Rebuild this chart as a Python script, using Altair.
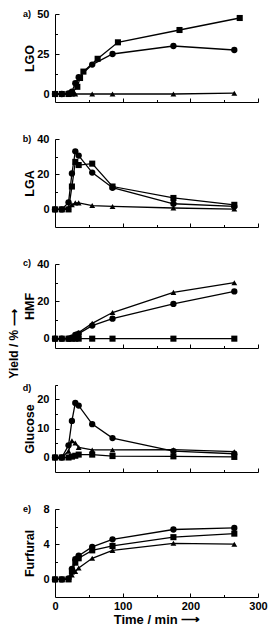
import altair as alt
import pandas as pd

FONT = "Liberation Sans"
W = 203

# ---------------- data ----------------
T = [0, 10, 20, 25, 30, 35, 55, 85, 175, 265]

# a) LGO
lgo_c_t = [0, 10, 20, 25, 30, 35, 55, 85, 175, 265]
lgo_c_v = [0, 0, 0.3, 1.5, 6.7, 10.5, 18.4, 25, 30, 27.5]
lgo_s_t = [0, 10, 20, 25, 33, 37, 42, 63, 93, 184, 273]
lgo_s_v = [0, 0, 0, 0.5, 4.5, 10, 14, 22, 32.3, 40, 47.5]
lgo_t_t = [0, 10, 20, 25, 30, 55, 85, 175, 265]
lgo_t_v = [0, 0, 0, 0, 0, 0, 0, 0, 0.5]

# b) LGA
lga_c_v = [0, 0, 4, 20.4, 33, 30.6, 20.9, 12.3, 3.2, 1.7]
lga_s_v = [0, 0, 0, 13, 27, 25.2, 26, 13, 6.5, 2.6]
lga_t_v = [0, 0, 1.2, 2.6, 3.7, 3.7, 2.2, 1.7, 0.8, 0.2]

# c) HMF
hmf_c_v = [0, 0, 0, 0.5, 2, 2.7, 7, 10.7, 18.6, 25.3]
hmf_s_v = [0, 0, 0, 0, 0, 0, 0, 0, 0, 0]
hmf_t_v = [0, 0, 0, 1, 2.6, 3.3, 8.2, 14, 24.8, 30]

# d) Glucose
glu_c_v = [0, 0, 4.2, 12.6, 18.8, 17.9, 11.5, 6.7, 2.2, 1.3]
glu_s_v = [0, 0, 0, 0.3, 0.6, 1, 1, 0.5, 0.4, 0.2]
glu_t_v = [0, 0, 2.2, 5.8, 5.0, 3.5, 2.6, 2.6, 2.7, 2.0]

# e) Furfural
fur_c_v = [0, 0, 0.1, 1.2, 2.3, 2.7, 3.7, 4.55, 5.67, 5.85]
fur_s_v = [0, 0, 0, 0.9, 1.9, 2.4, 3.3, 3.8, 4.8, 5.2]
fur_t_v = [0, 0, 0, 0.5, 0.9, 1.3, 2.4, 3.3, 4.1, 4.0]

x_major = [0, 100, 200, 300]
x_tick_major = [100, 200, 300]
x_tick_minor = [50, 150, 250]


def frame(parts):
    rows = []
    for name, t, v in parts:
        for ti, vi in zip(t, v):
            rows.append({"t": ti, "v": vi, "s": name})
    return pd.DataFrame(rows)


shape_scale = alt.Scale(domain=["circle", "square", "triangle"],
                        range=["circle", "square", "triangle-up"])
size_scale = alt.Scale(domain=["circle", "square", "triangle"], range=[40, 34, 46])


def tick_axes(base, xs, ys, xvals, yvals, size):
    return base.mark_point(opacity=0).encode(
        x=alt.X("t:Q", scale=xs, axis=alt.Axis(orient="bottom", offset=-size, values=xvals,
                                               tickSize=size, labels=False, domain=False,
                                               title=None, grid=False)),
        y=alt.Y("v:Q", scale=ys, axis=alt.Axis(orient="left", offset=-size, values=yvals,
                                               tickSize=size, labels=False, domain=False,
                                               title=None, grid=False)),
    )


def panel(df, letter, title, ydom, ymaj, ymin, H, bottom=False, letter_dy=0, extra=None):
    xs = alt.Scale(domain=[0, 300], nice=False, zero=False)
    ys = alt.Scale(domain=ydom, nice=False, zero=False)
    base = alt.Chart(df)
    if bottom:
        xaxis = alt.Axis(orient="bottom", values=x_major, ticks=False, tickSize=0, labels=True,
                         title="Time / min \u27f6", labelPadding=3, titlePadding=2,
                         labelFlush=False, grid=False, titleFontSize=13, labelFontSize=11)
    else:
        xaxis = alt.Axis(orient="bottom", values=x_major, ticks=False, tickSize=0, labels=False,
                         title=None, grid=False)
    yaxis = alt.Axis(orient="left", values=ymaj, ticks=False, tickSize=0, labelPadding=6,
                     labelFlush=False, title=title, titleX=-19, grid=False,
                     titleFontSize=12.5, labelFontSize=11)
    lines = base.mark_line(color="black", strokeWidth=1.3).encode(
        x=alt.X("t:Q", scale=xs, axis=xaxis),
        y=alt.Y("v:Q", scale=ys, axis=yaxis),
        detail="s:N",
        order="t:Q",
    )
    pts = base.mark_point(filled=True, color="black", opacity=1).encode(
        x=alt.X("t:Q", scale=xs, axis=None),
        y=alt.Y("v:Q", scale=ys, axis=None),
        shape=alt.Shape("s:N", scale=shape_scale, legend=None),
        size=alt.Size("s:N", scale=size_scale, legend=None),
    )
    tmaj = tick_axes(base, xs, ys, x_tick_major, ymaj, 4)
    tmin = tick_axes(base, xs, ys, x_tick_minor, ymin, 2.5)
    lab = alt.Chart(pd.DataFrame({"lab": [letter]})).mark_text(
        font=FONT, fontWeight="bold", fontSize=9, color="black",
        align="center", baseline="middle"
    ).encode(text="lab:N", x=alt.value(-28), y=alt.value(letter_dy))
    layers = [lines, pts, tmaj, tmin, lab]
    if extra is not None:
        layers.append(extra)
    return alt.layer(*layers).resolve_axis(x="independent", y="independent").properties(
        width=W, height=H)


dfa = frame([("circle", lgo_c_t, lgo_c_v), ("square", lgo_s_t, lgo_s_v), ("triangle", lgo_t_t, lgo_t_v)])
dfb = frame([("circle", T, lga_c_v), ("square", T, lga_s_v), ("triangle", T, lga_t_v)])
dfc = frame([("circle", T, hmf_c_v), ("square", T, hmf_s_v), ("triangle", T, hmf_t_v)])
dfd = frame([("circle", T, glu_c_v), ("square", T, glu_s_v), ("triangle", T, glu_t_v)])
dfe = frame([("circle", T, fur_c_v), ("square", T, fur_s_v), ("triangle", T, fur_t_v)])

yield_txt = alt.Chart(pd.DataFrame({"lab": ["Yield / % \u27f6"]})).mark_text(
    font=FONT, fontWeight="bold", fontSize=12, color="black", angle=270,
    align="center", baseline="middle"
).encode(text="lab:N", x=alt.value(-41), y=alt.value(80))

pa = panel(dfa, "a)", "LGO", [-5, 50], [0, 25, 50], [12.5, 37.5], 88)
pb = panel(dfb, "b)", "LGA", [-10, 40], [0, 20, 40], [10, 30], 88)
pc = panel(dfc, "c)", "HMF", [-5, 40], [0, 20, 40], [10, 30], 84, letter_dy=-1, extra=yield_txt)
pd_ = panel(dfd, "d)", "Glucose", [-5, 25], [0, 10, 20], [5, 15, 25], 87, letter_dy=3)
pe = panel(dfe, "e)", "Furfural", [-2, 8], [0, 4, 8], [2, 6], 88, bottom=True)

chart = alt.vconcat(pa, pb, pc, pd_, pe, spacing=37, bounds="flush").properties(
    padding=0
).configure_view(strokeWidth=0).configure_axis(
    domainColor="black", domainWidth=1, tickColor="black", tickWidth=1,
    labelColor="black", titleColor="black", labelFont=FONT, titleFont=FONT,
    labelFontWeight="bold", titleFontWeight="bold", labelFontSize=11,
)

chart.save("out.html", embed_options={"renderer": "svg", "actions": False})
